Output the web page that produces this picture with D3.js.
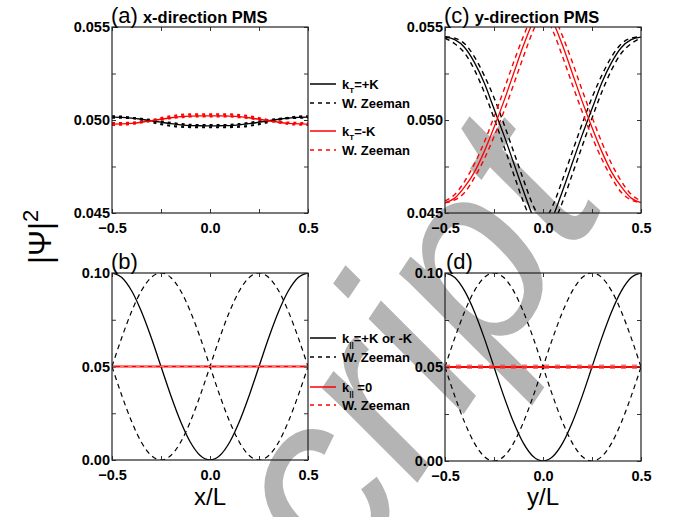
<!DOCTYPE html>
<html>
<head>
<meta charset="utf-8">
<script src="https://cdn.jsdelivr.net/npm/d3@7"></script>
<style>
  body { margin: 0; background: #fff; }
  svg text { font-family: "Liberation Sans", Arial, sans-serif; }
</style>
</head>
<body>
<div id="chart"></div>
<script>
// ==== data ====
const xGrid = [-0.5,-0.45,-0.4,-0.35,-0.3,-0.25,-0.2,-0.15,-0.1,-0.05,0,0.05,0.1,0.15,0.2,0.25,0.3,0.35,0.4,0.45,0.5];

// (a) x-direction PMS
const aBlack   = [0.05015,0.05014,0.05010,0.05004,0.04996,0.04988,0.04980,0.04974,0.04970,0.04969,0.04968,0.04969,0.04970,0.04974,0.04980,0.04988,0.04996,0.05004,0.05010,0.05014,0.05015];
const aBlackZ1 = [0.05020,0.05018,0.05012,0.05002,0.04990,0.04978,0.04969,0.04964,0.04962,0.04961,0.04961,0.04961,0.04962,0.04964,0.04969,0.04978,0.04990,0.05002,0.05012,0.05018,0.05020];
const aBlackZ2 = [0.05012,0.05012,0.05010,0.05006,0.05000,0.04992,0.04984,0.04978,0.04974,0.04972,0.04972,0.04972,0.04974,0.04978,0.04984,0.04992,0.05000,0.05006,0.05010,0.05012,0.05012];
const aRed     = [0.04978,0.04979,0.04982,0.04988,0.04996,0.05004,0.05012,0.05018,0.05021,0.05022,0.05022,0.05022,0.05021,0.05018,0.05012,0.05004,0.04996,0.04988,0.04982,0.04979,0.04978];
const aRedZ1   = [0.04974,0.04975,0.04979,0.04987,0.04998,0.05010,0.05020,0.05027,0.05030,0.05031,0.05031,0.05031,0.05030,0.05027,0.05020,0.05010,0.04998,0.04987,0.04979,0.04975,0.04974];
const aRedZ2   = [0.04984,0.04984,0.04986,0.04990,0.04996,0.05003,0.05010,0.05015,0.05019,0.05020,0.05020,0.05020,0.05019,0.05015,0.05010,0.05003,0.04996,0.04990,0.04986,0.04984,0.04984];

// (c) y-direction PMS
const cBlack   = [0.05446,0.05432,0.05390,0.05310,0.05200,0.05060,0.04920,0.04770,0.04620,0.04480,0.04400,0.04480,0.04620,0.04770,0.04920,0.05060,0.05200,0.05310,0.05390,0.05432,0.05446];
const cBlackZ1 = [0.05440,0.05410,0.05360,0.05270,0.05150,0.05010,0.04860,0.04710,0.04560,0.04440,0.04380,0.04440,0.04560,0.04710,0.04860,0.05010,0.05150,0.05270,0.05360,0.05410,0.05440];
const cBlackZ2 = [0.05448,0.05440,0.05410,0.05340,0.05240,0.05120,0.04980,0.04830,0.04680,0.04540,0.04460,0.04540,0.04680,0.04830,0.04980,0.05120,0.05240,0.05340,0.05410,0.05440,0.05448];
const cRed     = [0.04556,0.04580,0.04640,0.04720,0.04830,0.04960,0.05100,0.05250,0.05400,0.05530,0.05620,0.05530,0.05400,0.05250,0.05100,0.04960,0.04830,0.04720,0.04640,0.04580,0.04556];
const cRedZ1   = [0.04565,0.04600,0.04670,0.04764,0.04880,0.05016,0.05160,0.05310,0.05450,0.05570,0.05630,0.05570,0.05450,0.05310,0.05160,0.05016,0.04880,0.04764,0.04670,0.04600,0.04565];
const cRedZ2   = [0.04555,0.04570,0.04610,0.04690,0.04790,0.04910,0.05044,0.05190,0.05340,0.05480,0.05580,0.05480,0.05340,0.05190,0.05044,0.04910,0.04790,0.04690,0.04610,0.04570,0.04555];

// (b) and (d)
const bBlack   = [0.1,0.0976,0.0905,0.0794,0.0655,0.05,0.0345,0.0206,0.0095,0.0024,0,0.0024,0.0095,0.0206,0.0345,0.05,0.0655,0.0794,0.0905,0.0976,0.1];
const bBlackZ1 = [0.05,0.0655,0.0794,0.0905,0.0976,0.1,0.0976,0.0905,0.0794,0.0655,0.05,0.0345,0.0206,0.0095,0.0024,0,0.0024,0.0095,0.0206,0.0345,0.05];
const bBlackZ2 = [0.05,0.0345,0.0206,0.0095,0.0024,0,0.0024,0.0095,0.0206,0.0345,0.05,0.0655,0.0794,0.0905,0.0976,0.1,0.0976,0.0905,0.0794,0.0655,0.05];
const bRed     = [0.05,0.05,0.05,0.05,0.05,0.05,0.05,0.05,0.05,0.05,0.05,0.05,0.05,0.05,0.05,0.05,0.05,0.05,0.05,0.05,0.05];
const bRedZ    = [0.0501,0.0501,0.0501,0.0501,0.0501,0.0501,0.0501,0.0501,0.0501,0.0501,0.0501,0.0501,0.0501,0.0501,0.0501,0.0501,0.0501,0.0501,0.0501,0.0501,0.0501];

const xTicks = [-0.5, 0, 0.5];
const xMinor = [-0.25, 0.25];
const yTicksTop = [0.045, 0.050, 0.055];
const yMinorTop = [0.0475, 0.0525];
const yTicksBot = [0, 0.05, 0.1];
const yMinorBot = [0.025, 0.075];

const legendTop = [
  { sub: "T", label: "=+K", color: "#000", dash: null },
  { sub: null, label: "W. Zeeman", color: "#000", dash: "4,4" },
  { sub: "T", label: "=-K", color: "#f00", dash: null },
  { sub: null, label: "W. Zeeman", color: "#f00", dash: "4,4" }
];
const legendBot = [
  { sub: "||", label: "=+K or -K", color: "#000", dash: null },
  { sub: null, label: "W. Zeeman", color: "#000", dash: "4,4" },
  { sub: "||", label: " =0", color: "#f00", dash: null },
  { sub: null, label: "W. Zeeman", color: "#f00", dash: "4,4" }
];

// ==== layout ====
const W = 675, H = 517;
const svg = d3.select("#chart").append("svg")
  .attr("width", W).attr("height", H);

// watermark (behind everything)
svg.append("text")
  .attr("transform", "translate(345,590) rotate(-56)")
  .attr("font-family", "Liberation Serif, serif")
  .attr("font-style", "italic")
  .attr("font-size", 250)
  .attr("fill", "#b4b4b4")
  .text("cript");

const panels = [
  { id: "a", x0: 112, x1: 308, y0: 27, y1: 213, dom: [0.045, 0.055], yt: yTicksTop, ym: yMinorTop, fmt: d3.format(".3f"),
    series: [
      { v: aBlackZ1, c: "#000", dash: "3,4", w: 2.2 }, { v: aBlackZ2, c: "#000", dash: "3,4", w: 2.2 },
      { v: aRedZ1, c: "#f00", dash: "3,4", w: 2.2 }, { v: aRedZ2, c: "#f00", dash: "3,4", w: 2.2 },
      { v: aBlack, c: "#000", w: 1.3 }, { v: aRed, c: "#f00", w: 1.3 }
    ] },
  { id: "c", x0: 445, x1: 641, y0: 27, y1: 213, dom: [0.045, 0.055], yt: yTicksTop, ym: yMinorTop, fmt: d3.format(".3f"),
    series: [
      { v: cBlackZ1, c: "#000", dash: "5,4", w: 1.4 }, { v: cBlackZ2, c: "#000", dash: "5,4", w: 1.4 },
      { v: cRedZ1, c: "#f00", dash: "5,4", w: 1.4 }, { v: cRedZ2, c: "#f00", dash: "5,4", w: 1.4 },
      { v: cBlack, c: "#000", w: 1.3 }, { v: cRed, c: "#f00", w: 1.3 }
    ] },
  { id: "b", x0: 112, x1: 308, y0: 273, y1: 460, dom: [0, 0.1], yt: yTicksBot, ym: yMinorBot, fmt: d3.format(".2f"),
    series: [
      { v: bBlackZ1, c: "#000", dash: "5,4", w: 1.2 }, { v: bBlackZ2, c: "#000", dash: "5,4", w: 1.2 },
      { v: bBlack, c: "#000", w: 1.3 },
      { v: bRed, c: "#f00", w: 2.2 }, { v: bRedZ, c: "#ff7070", dash: "4,4", w: 1.2 }
    ] },
  { id: "d", x0: 445, x1: 641, y0: 273, y1: 461, dom: [0, 0.1], yt: yTicksBot, ym: yMinorBot, fmt: d3.format(".2f"),
    series: [
      { v: bBlackZ1, c: "#000", dash: "5,4", w: 1.2 }, { v: bBlackZ2, c: "#000", dash: "5,4", w: 1.2 },
      { v: bBlack, c: "#000", w: 1.3 },
      { v: bRed, c: "#f00", w: 1.8 }, { v: bRedZ, c: "rgba(240,60,60,0.7)", dash: "5,6", w: 4.5 }
    ] }
];

panels.forEach(p => {
  const x = d3.scaleLinear().domain([-0.5, 0.5]).range([p.x0, p.x1]);
  const y = d3.scaleLinear().domain(p.dom).range([p.y1, p.y0]);
  const g = svg.append("g");

  g.append("clipPath").attr("id", "clip-" + p.id)
    .append("rect").attr("x", p.x0).attr("y", p.y0)
    .attr("width", p.x1 - p.x0).attr("height", p.y1 - p.y0);

  const line = d3.line()
    .x((d, i) => x(xGrid[i]))
    .y(d => y(d))
    .curve(d3.curveMonotoneX);

  const lines = g.append("g").attr("clip-path", `url(#clip-${p.id})`);
  p.series.forEach(s => {
    lines.append("path")
      .attr("d", line(s.v))
      .attr("fill", "none")
      .attr("stroke", s.c)
      .attr("stroke-width", s.w)
      .attr("stroke-dasharray", s.dash || null);
  });

  // axes: labelled bottom + left, plain top + right, all ticks inward
  const tickStyle = sel => {
    sel.select(".domain").remove();
    sel.selectAll("line").attr("stroke", "#333");
  };
  const bottom = g.append("g").attr("transform", `translate(0,${p.y1})`)
    .call(d3.axisBottom(x).tickValues(xTicks).tickSize(-4).tickPadding(10).tickFormat(d3.format(".1f")));
  bottom.call(tickStyle);
  bottom.selectAll("text").attr("font-size", 14.5).attr("font-weight", "bold").attr("fill", "#000")
    .text(d => d === 0 ? "0.0" : d3.format(".1f")(d));
  g.append("g").attr("transform", `translate(0,${p.y1})`)
    .call(d3.axisBottom(x).tickValues(xMinor).tickSize(-4).tickFormat("")).call(tickStyle);
  g.append("g").attr("transform", `translate(0,${p.y0})`)
    .call(d3.axisTop(x).tickValues(xTicks.concat(xMinor)).tickSize(-4).tickFormat("")).call(tickStyle);

  const left = g.append("g").attr("transform", `translate(${p.x0},0)`)
    .call(d3.axisLeft(y).tickValues(p.yt).tickSize(-4).tickPadding(2).tickFormat(p.fmt));
  left.call(tickStyle);
  left.selectAll("text").attr("font-size", 14.5).attr("font-weight", "bold").attr("fill", "#000");
  g.append("g").attr("transform", `translate(${p.x0},0)`)
    .call(d3.axisLeft(y).tickValues(p.ym).tickSize(-4).tickFormat("")).call(tickStyle);
  g.append("g").attr("transform", `translate(${p.x1},0)`)
    .call(d3.axisRight(y).tickValues(p.yt.concat(p.ym)).tickSize(-4).tickFormat("")).call(tickStyle);

  g.append("rect")
    .attr("x", p.x0).attr("y", p.y0)
    .attr("width", p.x1 - p.x0).attr("height", p.y1 - p.y0)
    .attr("fill", "none").attr("stroke", "#222").attr("stroke-width", 1.2);
});

// ==== panel titles ====
function title(xp, yp, tag, txt) {
  const t = svg.append("text").attr("x", xp).attr("y", yp).attr("fill", "#000");
  t.append("tspan").attr("font-size", 22).text(tag);
  if (txt) t.append("tspan").attr("dx", 5).attr("font-size", 16.5).attr("font-weight", "bold").text(txt);
}
title(111, 23, "(a)", "x-direction PMS");
title(444, 23, "(c)", "y-direction PMS");
title(111, 269, "(b)", null);
title(446, 269, "(d)", null);

// ==== axis titles ====
svg.append("text").attr("x", 210).attr("y", 505).attr("text-anchor", "middle")
  .attr("font-size", 24).text("x/L");
svg.append("text").attr("x", 543).attr("y", 505).attr("text-anchor", "middle")
  .attr("font-size", 24).text("y/L");

const yl = svg.append("text")
  .attr("transform", "translate(51,264) rotate(-90)")
  .attr("font-family", "Liberation Serif, serif")
  .attr("font-size", 31);
yl.append("tspan").text("|Ψ|");
yl.append("tspan").attr("font-size", 22).attr("dy", -13).text("2");

// ==== legends ====
function legend(items, ys) {
  items.forEach((it, i) => {
    svg.append("line")
      .attr("x1", 310).attr("x2", 336).attr("y1", ys[i]).attr("y2", ys[i])
      .attr("stroke", it.color).attr("stroke-width", 1.5)
      .attr("stroke-dasharray", it.dash);
    const t = svg.append("text").attr("x", 342).attr("y", ys[i] + 5)
      .attr("font-size", 13).attr("font-weight", "bold").attr("fill", "#000");
    if (it.sub) {
      t.append("tspan").text("k");
      t.append("tspan").attr("font-size", 8).attr("dy", 4).text(it.sub);
      t.append("tspan").attr("dy", -4).text(it.label);
    } else {
      t.text(it.label);
    }
  });
}
legend(legendTop, [84, 103, 131, 150]);
legend(legendBot, [338, 357, 387, 405]);
</script>
</body>
</html>
